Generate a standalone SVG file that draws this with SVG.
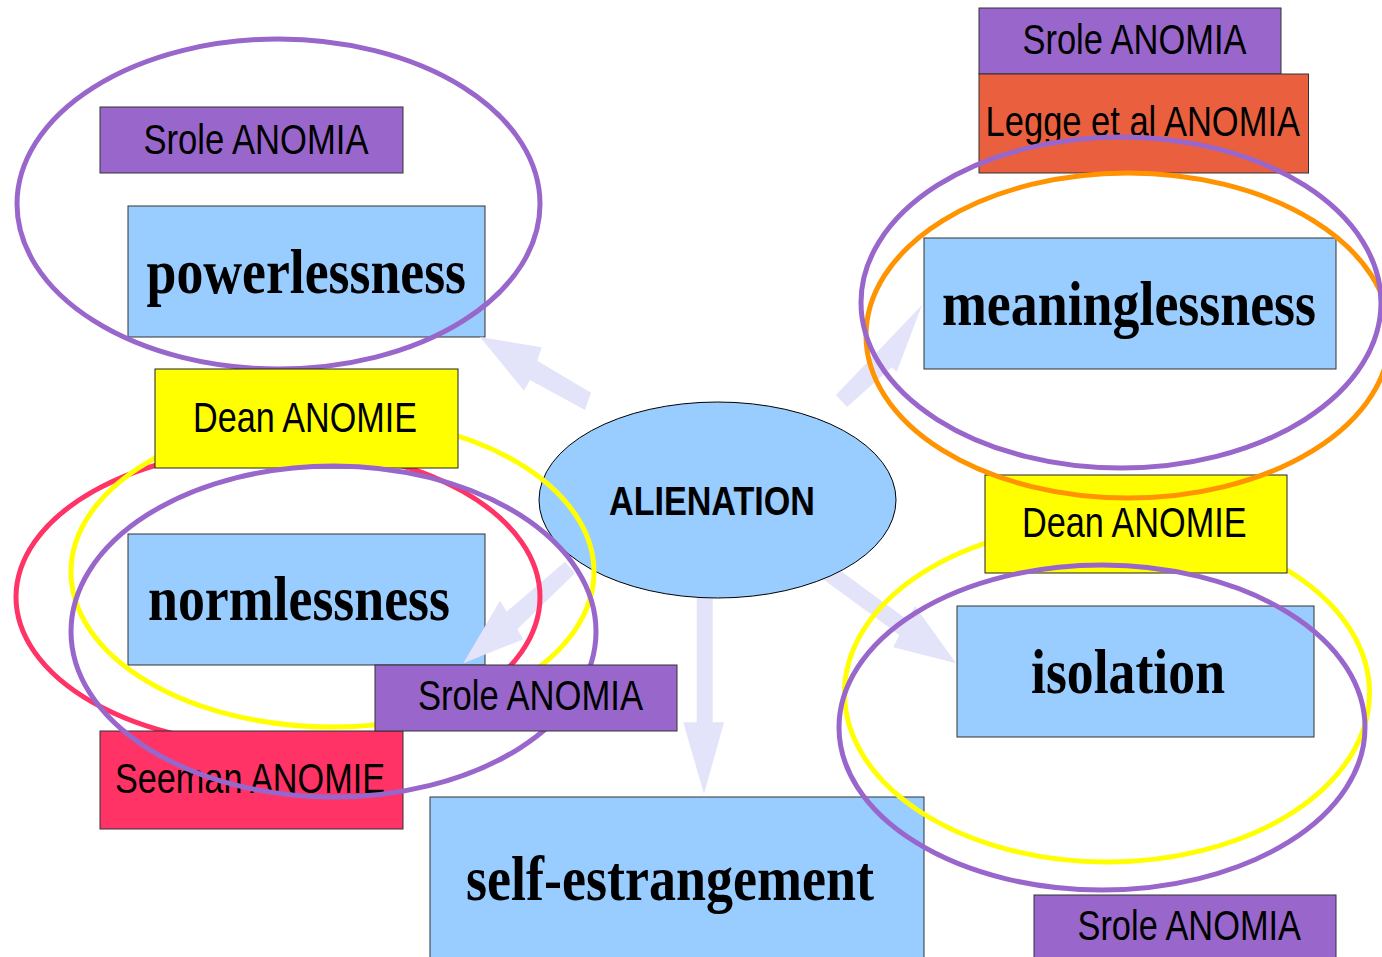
<svg xmlns="http://www.w3.org/2000/svg" width="1382" height="957" viewBox="0 0 1382 957">
<style>
.bg{fill:#ffffff}
.box{fill:#99ccff;stroke:#333333;stroke-width:1}
.big{font-family:"Liberation Serif","Times New Roman",serif;font-weight:bold;font-size:64px;fill:#000}
.lbl{font-family:"Liberation Sans Narrow","Liberation Sans",Arial,sans-serif;font-size:42px;fill:#000}
.purple{fill:#9966cc;stroke:#333333;stroke-width:1}
.yellow{fill:#ffff00;stroke:#222222;stroke-width:1}
.red{fill:#ff3366;stroke:#333333;stroke-width:1}
.legge{fill:#ea603f;stroke:#333333;stroke-width:1}
.ring{fill:none;stroke-width:5}
.rp{stroke:#9966cc}
.ry{stroke:#ffff00}
.rr{stroke:#ff3366}
.ro{stroke:#ff9300}
.arrow{fill:#e3e3fa;stroke:none}
</style>
<rect class="bg" x="0" y="0" width="1382" height="957"/>

<g id="powerlessness">
<rect class="box" x="128" y="206" width="357" height="131"/>
<text class="big" x="146.5" y="293" textLength="319.5" lengthAdjust="spacingAndGlyphs">powerlessness</text>
</g>
<g id="normlessness">
<rect class="box" x="128" y="534" width="357" height="131"/>
<text class="big" x="148" y="620" textLength="302" lengthAdjust="spacingAndGlyphs">normlessness</text>
</g>
<g id="meaninglessness">
<rect class="box" x="924" y="238" width="412" height="131"/>
<text class="big" x="942" y="325" textLength="374" lengthAdjust="spacingAndGlyphs">meaninglessness</text>
</g>
<g id="isolation">
<rect class="box" x="957" y="606" width="357" height="131"/>
<text class="big" x="1031" y="693" textLength="194" lengthAdjust="spacingAndGlyphs">isolation</text>
</g>
<g id="self-estrangement">
<rect class="box" x="430" y="797" width="494" height="170"/>
<text class="big" x="466" y="900" textLength="408" lengthAdjust="spacingAndGlyphs">self-estrangement</text>
</g>

<g id="connectors">
<polygon class="arrow" points="480,337 541.7,347.3 537.3,360.7 591,392.7 585,410 530,380 524,390.7"/>
<polygon class="arrow" points="836,395 922,305 896.7,371.7 891.7,367.3 847,407"/>
<polygon class="arrow" points="575,573.3 517.3,629.3 523.3,639.3 463.3,663.3 500,600.7 506.7,611.7 565,561.7"/>
<polygon class="arrow" points="823.3,558.3 907.6,620 915,606 956,663.3 893.3,647.3 899.3,635 815,573.3"/>
<polygon class="arrow" points="696.7,598 712.7,598 712.7,722.3 724,722.3 704,794 683.3,722.3 696.7,722.3"/>
</g>

<g id="alienation">
<ellipse cx="717.5" cy="500" rx="178.5" ry="98" fill="#99ccff" stroke="#000" stroke-width="1"/>
<text x="609" y="515" font-family="'Liberation Sans',Arial,sans-serif" font-weight="bold" font-size="40" textLength="206" lengthAdjust="spacingAndGlyphs">ALIENATION</text>
</g>

<g id="srole-powerlessness">
<rect class="purple" x="100" y="107" width="303" height="66"/>
<text class="lbl" x="143.5" y="154" textLength="225" lengthAdjust="spacingAndGlyphs">Srole ANOMIA</text>
</g>
<g id="ring-powerlessness">
<ellipse class="ring rp" cx="278.5" cy="204" rx="261.5" ry="165"/>
</g>

<g id="ring-seeman">
<ellipse class="ring rr" cx="278" cy="597" rx="262" ry="149"/>
</g>
<g id="ring-dean-left">
<ellipse class="ring ry" cx="332.5" cy="572" rx="261.5" ry="155"/>
</g>
<g id="dean-normlessness">
<rect class="yellow" x="155" y="369" width="303" height="99"/>
<text class="lbl" x="193" y="432" textLength="224" lengthAdjust="spacingAndGlyphs">Dean ANOMIE</text>
</g>
<g id="seeman-normlessness">
<rect class="red" x="100" y="731" width="303" height="98"/>
<text class="lbl" x="115" y="793" textLength="270" lengthAdjust="spacingAndGlyphs">Seeman ANOMIE</text>
</g>
<g id="ring-srole-left">
<ellipse class="ring rp" cx="333.5" cy="631.5" rx="262.5" ry="165.5"/>
</g>
<g id="srole-normlessness">
<rect class="purple" x="375" y="665" width="302" height="66"/>
<text class="lbl" x="418" y="710" textLength="225" lengthAdjust="spacingAndGlyphs">Srole ANOMIA</text>
</g>

<g id="srole-meaninglessness">
<rect class="purple" x="979" y="8" width="302" height="66"/>
<text class="lbl" x="1022.5" y="54" textLength="224" lengthAdjust="spacingAndGlyphs">Srole ANOMIA</text>
</g>
<g id="legge-meaninglessness">
<rect class="legge" x="979" y="74" width="329.5" height="99"/>
<text class="lbl" x="985.6" y="136" textLength="314.4" lengthAdjust="spacingAndGlyphs">Legge et al ANOMIA</text>
</g>
<g id="ring-dean-right">
<ellipse class="ring ry" cx="1107" cy="693" rx="262.5" ry="169"/>
</g>
<g id="dean-isolation">
<rect class="yellow" x="985" y="475" width="302" height="98"/>
<text class="lbl" x="1022" y="537" textLength="224.5" lengthAdjust="spacingAndGlyphs">Dean ANOMIE</text>
</g>
<g id="ring-legge">
<ellipse class="ring ro" cx="1128" cy="335.5" rx="262" ry="162.5"/>
</g>
<g id="ring-srole-meaninglessness">
<ellipse class="ring rp" cx="1121" cy="302.5" rx="260" ry="165.5"/>
</g>
<g id="ring-srole-isolation">
<ellipse class="ring rp" cx="1102" cy="727.5" rx="263" ry="162.5"/>
</g>
<g id="srole-isolation">
<rect class="purple" x="1034" y="895" width="302" height="80"/>
<text class="lbl" x="1077.5" y="940" textLength="223.5" lengthAdjust="spacingAndGlyphs">Srole ANOMIA</text>
</g>
</svg>
